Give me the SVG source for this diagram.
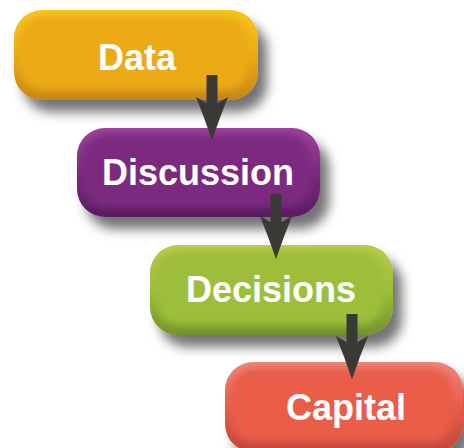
<svg xmlns="http://www.w3.org/2000/svg" xmlns:xlink="http://www.w3.org/1999/xlink" width="464" height="448" viewBox="0 0 464 448">
  <defs>
    <filter id="shadow" x="-20%" y="-30%" width="150%" height="180%">
      <feGaussianBlur in="SourceAlpha" stdDeviation="6"/>
      <feOffset dx="9" dy="12" result="b"/>
      <feFlood flood-color="#000" flood-opacity="0.55"/>
      <feComposite in2="b" operator="in" result="s"/>
      <feMerge><feMergeNode in="s"/><feMergeNode in="SourceGraphic"/></feMerge>
    </filter>
    <filter id="soft" x="-10%" y="-20%" width="120%" height="140%">
      <feGaussianBlur stdDeviation="3.5"/>
    </filter>
    <linearGradient id="gData" x1="0" y1="0" x2="0" y2="1">
      <stop offset="0" stop-color="#F5C820"/><stop offset="0.5" stop-color="#ECAA16"/><stop offset="1" stop-color="#C48612"/>
    </linearGradient>
    <linearGradient id="gDisc" x1="0" y1="0" x2="0" y2="1">
      <stop offset="0" stop-color="#A0449C"/><stop offset="0.5" stop-color="#7C2A80"/><stop offset="1" stop-color="#581D60"/>
    </linearGradient>
    <linearGradient id="gDec" x1="0" y1="0" x2="0" y2="1">
      <stop offset="0" stop-color="#BCCB4E"/><stop offset="0.5" stop-color="#9CBE3A"/><stop offset="1" stop-color="#71932A"/>
    </linearGradient>
    <linearGradient id="gCap" x1="0" y1="0" x2="0" y2="1">
      <stop offset="0" stop-color="#EE877C"/><stop offset="0.5" stop-color="#E95D49"/><stop offset="1" stop-color="#BE4638"/>
    </linearGradient>
    <clipPath id="cData"><rect x="14" y="10" width="244" height="90" rx="28"/></clipPath>
    <clipPath id="cDisc"><rect x="77" y="128" width="243" height="89" rx="28"/></clipPath>
    <clipPath id="cDec"><rect x="150" y="245" width="243" height="90" rx="28"/></clipPath>
    <clipPath id="cCap"><rect x="225" y="362" width="238" height="90" rx="28"/></clipPath>
    <path id="arrowShape" d="M-5.5,0 H5.5 V28 L16,22 Q8,42 0,65 Q-8,42 -16,22 L-5.5,28 Z"/>
  </defs>
  <style>
    .lbl { font-family: "Liberation Sans", Arial, sans-serif; font-weight: bold; font-size: 36px; fill: #ffffff; text-anchor: middle; }
    .arrow { fill: #3A3935; }
  </style>
  <rect width="464" height="448" fill="#ffffff"/>

  <g id="node-data">
    <rect x="14" y="10" width="244" height="90" rx="28" fill="url(#gData)" filter="url(#shadow)"/>
    <g clip-path="url(#cData)"><rect x="20" y="16" width="228" height="74" rx="24" fill="#ECAA16" filter="url(#soft)"/></g>
    <text class="lbl" x="137" y="70">Data</text>
  </g>

  <g id="node-discussion">
    <rect x="77" y="128" width="243" height="89" rx="28" fill="url(#gDisc)" filter="url(#shadow)"/>
    <g clip-path="url(#cDisc)"><rect x="83" y="134" width="227" height="73" rx="24" fill="#7C2A80" filter="url(#soft)"/></g>
    <text class="lbl" x="198" y="185">Discussion</text>
  </g>

  <g id="node-decisions">
    <rect x="150" y="245" width="243" height="90" rx="28" fill="url(#gDec)" filter="url(#shadow)"/>
    <g clip-path="url(#cDec)"><rect x="156" y="251" width="227" height="74" rx="24" fill="#9CBE3A" filter="url(#soft)"/></g>
    <text class="lbl" x="271" y="302">Decisions</text>
  </g>

  <g id="node-capital">
    <rect x="225" y="362" width="238" height="90" rx="28" fill="url(#gCap)" filter="url(#shadow)"/>
    <g clip-path="url(#cCap)"><rect x="231" y="368" width="222" height="74" rx="24" fill="#E95D49" filter="url(#soft)"/></g>
    <text class="lbl" x="346" y="420">Capital</text>
  </g>

  <g id="connectors">
    <use xlink:href="#arrowShape" href="#arrowShape" class="arrow" x="212" y="75"/>
    <use xlink:href="#arrowShape" href="#arrowShape" class="arrow" x="276" y="194"/>
    <use xlink:href="#arrowShape" href="#arrowShape" class="arrow" x="352" y="314"/>
  </g>
</svg>
